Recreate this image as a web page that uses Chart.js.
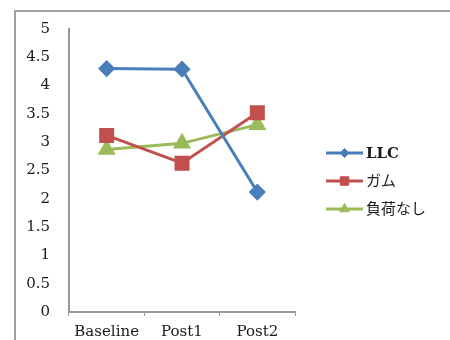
<!DOCTYPE html>
<html>
<head>
<meta charset="utf-8">
<script src="https://cdn.jsdelivr.net/npm/chart.js@4/dist/chart.umd.min.js"></script>
<style>
  html, body { margin: 0; padding: 0; background: #fff; }
  #wrap { position: relative; width: 450px; height: 340px; overflow: hidden; }
  #frame { position: absolute; left: 14px; top: 10px; width: 460px; height: 360px;
           border-top: 2px solid #a0a0a0; border-left: 2px solid #a0a0a0; box-sizing: border-box; }
  canvas { position: absolute; left: 0; top: 0; }
</style>
</head>
<body>
<div id="wrap">
  <div id="frame"></div>
  <canvas id="c" width="450" height="340"></canvas>
</div>
<script>
const categories = ["Baseline", "Post1", "Post2"];
const seriesNames = ["LLC", "ガム", "負荷なし"];
const llcValues = [4.30, 4.29, 2.12];
const gumValues = [3.12, 2.63, 3.52];
const noLoadValues = [2.87, 2.98, 3.31];
const yTickLabels = ["0", "0.5", "1", "1.5", "2", "2.5", "3", "3.5", "4", "4.5", "5"];

const FONT = "'DejaVu Serif', 'Noto Sans CJK JP', serif";
const TEXT = "#1a1a1a";

const legendPlugin = {
  id: "sideLegend",
  afterDraw(chart) {
    const ctx = chart.ctx;
    const x0 = 326, x1 = 363, tx = 366, y0 = 153, dy = 28;
    const legendRadius = [4.5, 6, 5.5];
    chart.data.datasets.forEach((ds, i) => {
      const y = y0 + i * dy;
      ctx.save();
      ctx.strokeStyle = ds.borderColor;
      ctx.lineWidth = 3;
      ctx.beginPath();
      ctx.moveTo(x0, y);
      ctx.lineTo(x1, y);
      ctx.stroke();
      ctx.fillStyle = ds.pointBackgroundColor;
      ctx.strokeStyle = ds.pointBorderColor;
      ctx.lineWidth = 1;
      Chart.helpers.drawPoint(ctx, { pointStyle: ds.pointStyle, radius: legendRadius[i], borderWidth: 1 }, (x0 + x1) / 2, y);
      ctx.fillStyle = TEXT;
      ctx.textBaseline = "middle";
      ctx.textAlign = "left";
      const bold = /^[A-Za-z]+$/.test(ds.label) ? "bold " : "";
      ctx.font = bold + "15px " + FONT;
      ctx.fillText(ds.label, tx, y + 1);
      ctx.restore();
    });
  }
};

function mk(label, data, color, style, r) {
  return {
    label, data,
    borderColor: color, backgroundColor: color,
    pointBackgroundColor: color, pointBorderColor: color,
    pointStyle: style, pointRadius: r, pointHoverRadius: r,
    borderWidth: 3, tension: 0
  };
}

new Chart(document.getElementById("c"), {
  type: "line",
  data: {
    labels: categories,
    datasets: [
      mk(seriesNames[0], llcValues, "#4A7EBB", "rectRot", 6.5),
      mk(seriesNames[1], gumValues, "#C0504D", "rect", 8.5),
      mk(seriesNames[2], noLoadValues, "#9BBB59", "triangle", 7.5)
    ]
  },
  options: {
    responsive: false,
    animation: false,
    devicePixelRatio: 1,
    layout: { padding: { left: 0, top: 29, right: 155, bottom: 0 } },
    plugins: { legend: { display: false }, tooltip: { enabled: false } },
    scales: {
      x: {
        offset: true,
        grid: { display: true, drawOnChartArea: false, drawTicks: true, tickLength: 4, color: "#999", offset: true },
        border: { display: true, color: "#999", width: 2 },
        ticks: { color: TEXT, font: { family: FONT, size: 15 }, padding: 7, maxRotation: 0 },
        afterFit(s) { s.height = 26; }
      },
      y: {
        min: 0, max: 5,
        grid: { display: true, drawOnChartArea: false, drawTicks: false, color: "#999" },
        border: { display: true, color: "#999", width: 2 },
        ticks: {
          stepSize: 0.5, color: TEXT, font: { family: FONT, size: 15 }, padding: 19,
          callback: (v) => yTickLabels[Math.round(v * 2)]
        },
        afterFit(s) { s.width = 69; }
      }
    }
  },
  plugins: [legendPlugin]
});
</script>
</body>
</html>
